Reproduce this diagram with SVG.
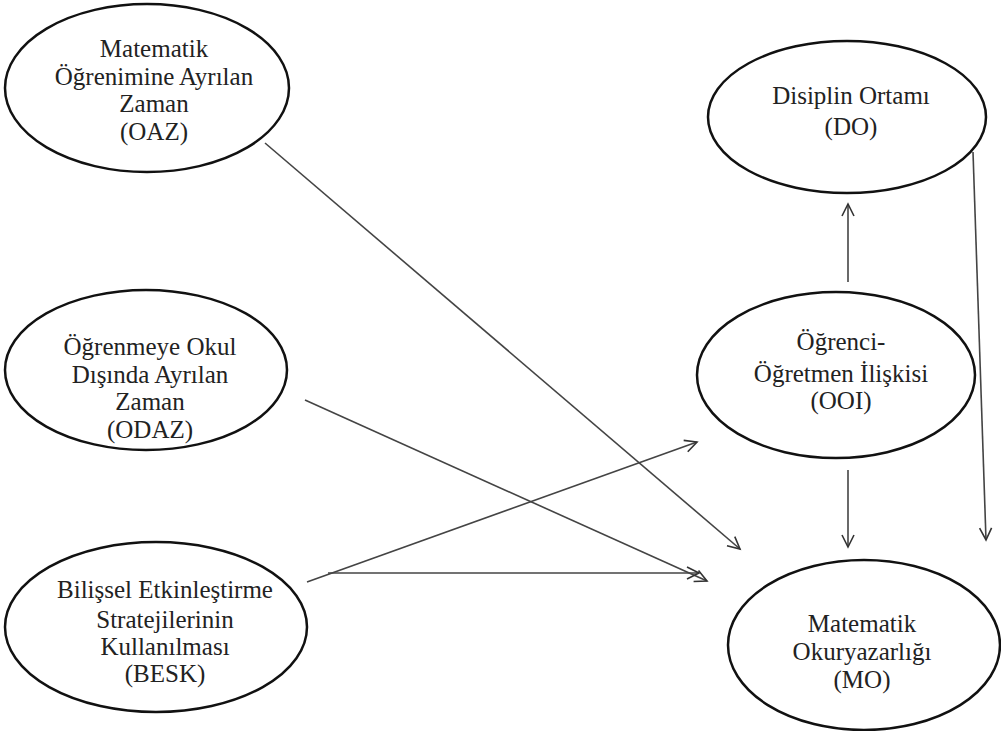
<svg xmlns="http://www.w3.org/2000/svg" width="1001" height="731" viewBox="0 0 1001 731">
<defs>
<style>
.node ellipse{fill:#fff;stroke:#111;stroke-width:2.5}
.node text{font-family:'Liberation Serif','DejaVu Serif','Times New Roman',serif;font-size:25px;fill:#222;text-anchor:middle}
.conn line{stroke:#444;stroke-width:1.6;fill:none;marker-end:url(#arr)}
</style>
<marker id="arr" markerUnits="userSpaceOnUse" markerWidth="16" markerHeight="16" refX="13" refY="7" orient="auto">
<path d="M1,1 L13,7 L1,13" fill="none" stroke="#333" stroke-width="1.6"/>
</marker>
</defs>
<rect width="1001" height="731" fill="#fff"/>
<g class="conn" id="connectors">
<line x1="265" y1="143" x2="740" y2="549"/>
<line x1="305" y1="400" x2="707" y2="581"/>
<line x1="307" y1="582" x2="697" y2="442"/>
<line x1="328" y1="573" x2="699" y2="573"/>
<line x1="848" y1="282" x2="848" y2="204"/>
<line x1="848" y1="470" x2="848" y2="547"/>
<line x1="973" y1="152" x2="986" y2="540"/>
</g>
<g class="node" id="OAZ" font-family="Liberation Serif, serif">
<ellipse cx="147" cy="88" rx="142" ry="84"/>
<text x="154" y="57">Matematik</text>
<text x="154" y="85">Öğrenimine Ayrılan</text>
<text x="154" y="112">Zaman</text>
<text x="154" y="140">(OAZ)</text>
</g>
<g class="node" id="DO">
<ellipse cx="847" cy="117" rx="139" ry="76"/>
<text x="851" y="104">Disiplin Ortamı</text>
<text x="851" y="135">(DO)</text>
</g>
<g class="node" id="ODAZ">
<ellipse cx="146" cy="370" rx="141" ry="80"/>
<text x="150" y="355">Öğrenmeye Okul</text>
<text x="150" y="383">Dışında Ayrılan</text>
<text x="150" y="410">Zaman</text>
<text x="150" y="438">(ODAZ)</text>
</g>
<g class="node" id="OOI">
<ellipse cx="836" cy="375" rx="139" ry="83"/>
<text x="841" y="350">Öğrenci-</text>
<text x="841" y="382">Öğretmen İlişkisi</text>
<text x="841" y="409">(OOI)</text>
</g>
<g class="node" id="BESK">
<ellipse cx="156" cy="627" rx="151" ry="85"/>
<text x="165" y="598">Bilişsel Etkinleştirme</text>
<text x="165" y="628">Stratejilerinin</text>
<text x="165" y="655">Kullanılması</text>
<text x="165" y="682">(BESK)</text>
</g>
<g class="node" id="MO">
<ellipse cx="864" cy="645" rx="136" ry="85"/>
<text x="862" y="632">Matematik</text>
<text x="862" y="660">Okuryazarlığı</text>
<text x="862" y="688">(MO)</text>
</g>
</svg>
